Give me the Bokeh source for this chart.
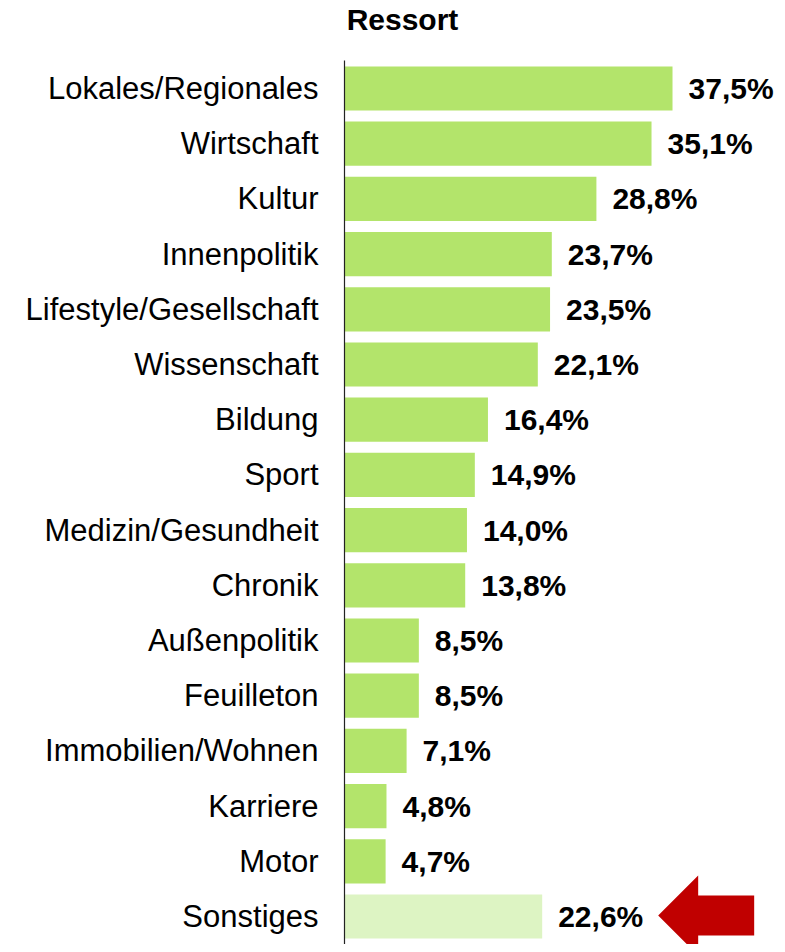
from bokeh.plotting import figure
from bokeh.models import ColumnDataSource, Range1d, Label
from bokeh.core.properties import value
from bokeh.embed import file_html
from bokeh.resources import INLINE

title_text = "Ressort"
categories = ["Lokales/Regionales", "Wirtschaft", "Kultur", "Innenpolitik",
              "Lifestyle/Gesellschaft", "Wissenschaft", "Bildung", "Sport",
              "Medizin/Gesundheit", "Chronik", "Außenpolitik", "Feuilleton",
              "Immobilien/Wohnen", "Karriere", "Motor", "Sonstiges"]
values = [37.5, 35.1, 28.8, 23.7, 23.5, 22.1, 16.4, 14.9, 14.0, 13.8, 8.5, 8.5,
          7.1, 4.8, 4.7, 22.6]
value_labels = ["37,5%", "35,1%", "28,8%", "23,7%", "23,5%", "22,1%", "16,4%",
                "14,9%", "14,0%", "13,8%", "8,5%", "8,5%", "7,1%", "4,8%",
                "4,7%", "22,6%"]
highlight = "Sonstiges"

GREEN = "#B3E46B"
LIGHT = "#DDF4C3"
RED = "#C00000"
FONT = "Liberation Sans"

W, H = 777, 944
XS = 8.747   # px per percent
YS = 55.2    # px per row
x0 = -344 / XS
y0 = -88 / YS

idx = list(range(len(categories)))
colors = [LIGHT if c == highlight else GREEN for c in categories]
src = ColumnDataSource(dict(y=idx, v=values, cat=categories, lab=value_labels,
                            color=colors, zero=[0] * len(idx)))

p = figure(width=W, height=H, output_backend="svg", toolbar_location=None,
           x_range=Range1d(x0, x0 + W / XS), y_range=Range1d(y0 + H / YS, y0),
           x_axis_type=None, y_axis_type=None, min_border=0)
p.outline_line_color = None
p.xgrid.visible = False
p.ygrid.visible = False
p.background_fill_color = "white"
p.border_fill_color = "white"

p.hbar(y="y", left=0, right="v", height=0.8, fill_color="color",
       line_color=None, source=src)

# vertical axis line
p.segment(x0=[0], y0=[-0.507], x1=[0], y1=[y0 + H / YS], line_color="#222222",
          line_width=1.2)

p.text(x="zero", y="y", text="cat", source=src, x_offset=-26,
       text_align="right", text_baseline="middle", text_font=value(FONT),
       text_font_size="31px", text_color="black")
p.text(x="v", y="y", text="lab", source=src, x_offset=16,
       text_align="left", text_baseline="middle", text_font=value(FONT),
       text_font_size="30px", text_font_style="bold", text_color="black")

p.add_layout(Label(x=402, y=H - 19, x_units="screen", y_units="screen",
                   text=title_text, text_align="center",
                   text_baseline="alphabetic", text_font=FONT,
                   text_font_size="30px", text_font_style="bold",
                   text_color="black"))

# red arrow pointing at the highlighted value
hi = categories.index(highlight)
tipx = values[hi] + 116 / XS
dx = 1 / XS
dy = 1 / YS
ay = hi - 1 * dy
ax_pts = [tipx, tipx + 40 * dx, tipx + 40 * dx, tipx + 96 * dx,
          tipx + 96 * dx, tipx + 40 * dx, tipx + 40 * dx]
ay_pts = [ay, ay - 40 * dy, ay - 20 * dy, ay - 20 * dy,
          ay + 20 * dy, ay + 20 * dy, ay + 40 * dy]
p.patch(ax_pts, ay_pts, fill_color=RED, line_color=None)

open("out.html", "w").write(file_html(p, INLINE))
